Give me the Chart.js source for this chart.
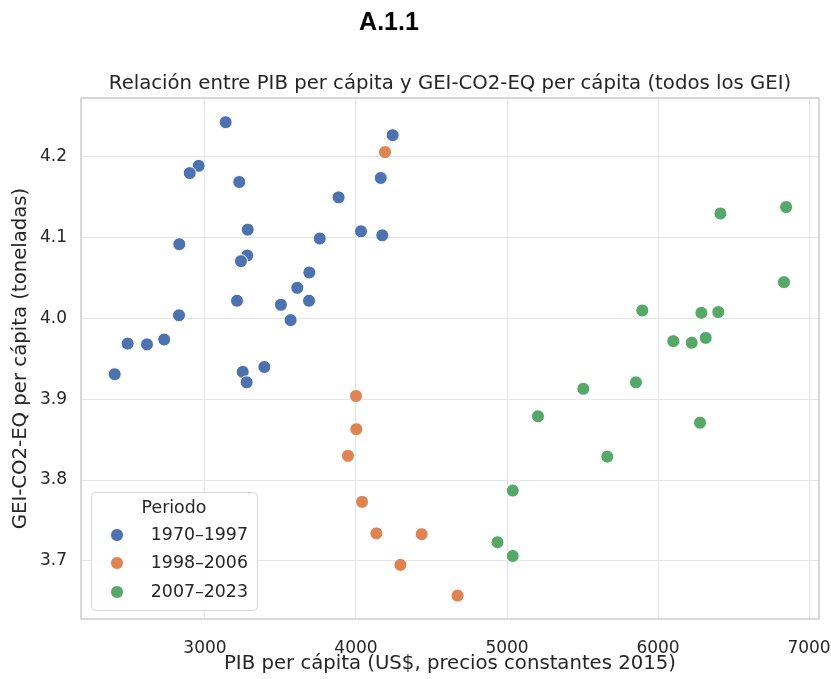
<!DOCTYPE html>
<html>
<head>
<meta charset="utf-8">
<script src="https://cdn.jsdelivr.net/npm/chart.js@4"></script>
<style>
  html, body { margin: 0; padding: 0; background: #fff; }
  #wrap { width: 831px; height: 679px; }
</style>
</head>
<body>
<div id="wrap"><canvas id="chart"></canvas></div>
<script>
// datos
const periodLabels = ['1970–1997', '1998–2006', '2007–2023'];
const periodColors = ['#4C72B0', '#DD8452', '#55A868'];

const pib1970 = [3137, 4243, 2958, 2899, 3227, 4164, 3885, 3283, 4033, 4174, 2830, 3760, 3280, 3238,
  3691, 3611, 3212, 3503, 3689, 3567, 2828, 2488, 2616, 2730, 2402, 3250, 3276, 3393];
const gei1970 = [4.243, 4.227, 4.189, 4.180, 4.169, 4.174, 4.150, 4.110, 4.108, 4.103, 4.092, 4.099, 4.078, 4.071,
  4.057, 4.038, 4.022, 4.017, 4.022, 3.998, 4.004, 3.969, 3.968, 3.974, 3.931, 3.934, 3.921, 3.940];

const pib1998 = [4192, 4000, 4002, 3947, 4040, 4135, 4294, 4435, 4673];
const gei1998 = [4.206, 3.904, 3.863, 3.830, 3.773, 3.734, 3.695, 3.733, 3.657];

const pib2007 = [6413, 6848, 6834, 5896, 6287, 6399, 6101, 6223, 6316, 5505, 5854, 5205, 6278, 5664, 5038, 4937, 5038];
const gei2007 = [4.130, 4.138, 4.045, 4.010, 4.007, 4.008, 3.972, 3.970, 3.976, 3.913, 3.921, 3.879, 3.871, 3.829, 3.787, 3.723, 3.706];

const xTicks = [3000, 4000, 5000, 6000, 7000];
const yTicks = [3.7, 3.8, 3.9, 4.0, 4.1, 4.2];

const textColor = '#262626';

function pairs(xs, ys) {
  return xs.map((x, i) => ({ x: x, y: ys[i] }));
}

const series = [pairs(pib1970, gei1970), pairs(pib1998, gei1998), pairs(pib2007, gei2007)];

// titulos, marco y leyenda
const extras = {
  id: 'extras',
  beforeDraw(chart) {
    const ctx = chart.ctx;
    ctx.save();
    ctx.fillStyle = '#fff';
    ctx.fillRect(0, 0, chart.width, chart.height);
    ctx.restore();
  },
  afterDraw(chart) {
    const ctx = chart.ctx;
    const a = chart.chartArea;
    ctx.save();
    ctx.fillStyle = '#000';
    ctx.textAlign = 'center';
    ctx.textBaseline = 'middle';
    ctx.font = 'bold 25px "Liberation Sans"';
    ctx.fillText('A.1.1', 389, 23);
    ctx.fillStyle = textColor;
    ctx.font = '19.7px "DejaVu Sans"';
    ctx.fillText('Relación entre PIB per cápita y GEI-CO2-EQ per cápita (todos los GEI)', (a.left + a.right) / 2, 84);

    ctx.strokeStyle = '#cccccc';
    ctx.lineWidth = 1.5;
    ctx.strokeRect(a.left, a.top, a.right - a.left, a.bottom - a.top);

    // leyenda
    const bx = 91, by = 492, bw = 166, bh = 118;
    ctx.fillStyle = 'rgba(255,255,255,0.85)';
    ctx.strokeStyle = '#d6d6d6';
    ctx.lineWidth = 1;
    ctx.beginPath();
    ctx.roundRect(bx + 0.5, by + 0.5, bw, bh, 4);
    ctx.fill();
    ctx.stroke();
    ctx.fillStyle = textColor;
    ctx.font = '17.4px "DejaVu Sans"';
    ctx.fillText('Periodo', 174, 508);
    const rows = [535, 563, 592];
    periodLabels.forEach((lab, i) => {
      ctx.beginPath();
      ctx.arc(117, rows[i], 6.5, 0, Math.PI * 2);
      ctx.fillStyle = periodColors[i];
      ctx.fill();
      ctx.strokeStyle = '#fff';
      ctx.lineWidth = 1;
      ctx.stroke();
      ctx.fillStyle = textColor;
      ctx.textAlign = 'right';
      ctx.fillText(lab, 248, rows[i]);
    });
    ctx.restore();
  }
};

new Chart(document.getElementById('chart'), {
  type: 'scatter',
  data: {
    datasets: series.map((d, i) => ({
      label: periodLabels[i],
      data: d,
      backgroundColor: periodColors[i],
      borderColor: '#ffffff',
      borderWidth: 1,
      pointRadius: 6.5,
      pointHoverRadius: 6.5
    }))
  },
  options: {
    responsive: true,
    maintainAspectRatio: false,
    animation: false,
    layout: { padding: { top: 98, right: 12, left: 0, bottom: 0 } },
    plugins: {
      legend: { display: false },
      title: { display: false },
      tooltip: { enabled: false }
    },
    scales: {
      x: {
        type: 'linear',
        min: 2179,
        max: 7066,
        afterBuildTicks: s => { s.ticks = xTicks.map(v => ({ value: v })); },
        afterFit: s => { s.height = 60; s.paddingLeft = 0; s.paddingRight = 0; },
        grid: { color: '#e6e6e6', lineWidth: 1, drawTicks: false },
        border: { display: false },
        ticks: {
          color: textColor,
          font: { family: 'DejaVu Sans', size: 17 },
          padding: 19,
          maxRotation: 0,
          callback: v => String(v)
        },
        title: {
          display: true,
          text: 'PIB per cápita (US$, precios constantes 2015)',
          color: textColor,
          font: { family: 'DejaVu Sans', size: 19.7 },
          padding: { top: 2, bottom: 3 }
        }
      },
      y: {
        type: 'linear',
        min: 3.628,
        max: 4.273,
        afterBuildTicks: s => { s.ticks = yTicks.map(v => ({ value: v })); },
        afterFit: s => { s.width = 81; },
        grid: { color: '#e6e6e6', lineWidth: 1, drawTicks: false },
        border: { display: false },
        ticks: {
          color: textColor,
          font: { family: 'DejaVu Sans', size: 17 },
          padding: 14,
          callback: v => v.toFixed(1)
        },
        title: {
          display: true,
          text: 'GEI-CO2-EQ per cápita (toneladas)',
          color: textColor,
          font: { family: 'DejaVu Sans', size: 19.7 },
          padding: { top: 9, bottom: 4 }
        }
      }
    }
  },
  plugins: [extras]
});
</script>
</body>
</html>
